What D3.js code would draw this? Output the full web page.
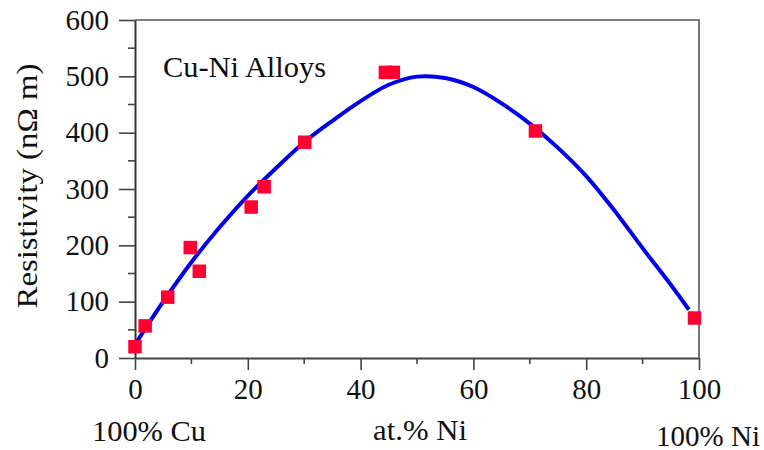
<!DOCTYPE html>
<html>
<head>
<meta charset="utf-8">
<script src="https://cdn.jsdelivr.net/npm/d3@7"></script>
</head>
<body style="margin:0;background:#fff">
<svg id="chart" width="764" height="450" font-family="Liberation Serif"></svg>
<script>
// ---- data ----
const niPercent   = [0, 1.8, 5.8, 9.8, 11.4, 20.6, 22.9, 30.1, 44.4, 45.8, 71.0, 99.2];
const resistivity = [20, 57, 108, 196, 154, 268, 304, 383, 507, 507, 403, 71];

const fitNi  = [0.4, 5, 10, 15, 20, 25, 30, 35, 40, 45, 50, 55, 60, 65, 70, 75, 80, 85, 90, 95, 98.2];
const fitRho = [30, 100, 170, 232, 288, 337, 383, 421, 456, 485, 499.5, 497, 481, 452, 416, 373, 323, 262, 195, 130, 86];

const xTicks = [0, 20, 40, 60, 80, 100];
const yTicks = [0, 100, 200, 300, 400, 500, 600];
const xMinor = [10, 30, 50, 70, 90];
const yMinor = [50, 150, 250, 350, 450, 550];

const chartTitle = "Cu-Ni Alloys";
const yTitle = "Resistivity (nΩ m)";
const xTitle = "at.% Ni";
const leftNote = "100% Cu";
const rightNote = "100% Ni";

// ---- layout ----
const FONT = '"Liberation Serif"';
const svg = d3.select("#chart");
const x = d3.scaleLinear().domain([0, 100]).range([135, 699]);
const y = d3.scaleLinear().domain([0, 600]).range([358, 20]);

const fontSize = 29;

// frame (top & right)
svg.append("path")
  .attr("d", `M${x(0)},${y(600)}H${x(100)}V${y(0)}`)
  .attr("fill", "none").attr("stroke", "#555").attr("stroke-width", 1.6);

// x axis
const gx = svg.append("g").attr("transform", `translate(0,${y(0)})`)
  .call(d3.axisBottom(x).tickValues(xTicks).tickSize(12).tickSizeOuter(0).tickPadding(8).tickFormat(d3.format("d")));
gx.attr("font-family", "Liberation Serif").attr("font-size", fontSize);
gx.selectAll(".tick text").attr("font-family", "Liberation Serif").style("font-family", FONT).style("font-size", fontSize + "px").attr("fill", "#111");
gx.select(".domain").attr("stroke", "#444").attr("stroke-width", 2);
gx.selectAll(".tick line").attr("stroke", "#444").attr("stroke-width", 1.6);
gx.selectAll(".minor").data(xMinor).enter().append("line")
  .attr("class", "minor")
  .attr("x1", d => x(d)).attr("x2", d => x(d)).attr("y1", 0).attr("y2", 6)
  .attr("stroke", "#444").attr("stroke-width", 1.6);

// y axis
const gy = svg.append("g").attr("transform", `translate(${x(0)},0)`)
  .call(d3.axisLeft(y).tickValues(yTicks).tickSize(16).tickSizeOuter(0).tickPadding(10).tickFormat(d3.format("d")));
gy.attr("font-family", "Liberation Serif").attr("font-size", fontSize);
gy.selectAll(".tick text").attr("font-family", "Liberation Serif").style("font-family", FONT).style("font-size", fontSize + "px").attr("fill", "#111");
gy.select(".domain").attr("stroke", "#333").attr("stroke-width", 2);
gy.selectAll(".tick line").attr("stroke", "#444").attr("stroke-width", 1.6);
gy.selectAll(".minor").data(yMinor).enter().append("line")
  .attr("class", "minor")
  .attr("x1", -7).attr("x2", 0).attr("y1", d => y(d)).attr("y2", d => y(d))
  .attr("stroke", "#444").attr("stroke-width", 1.6);

// fit curve
const fit = fitNi.map((d, i) => [d, fitRho[i]]);
svg.append("path")
  .datum(fit)
  .attr("d", d3.line().x(d => x(d[0])).y(d => y(d[1])).curve(d3.curveCatmullRom.alpha(0.5)))
  .attr("fill", "none").attr("stroke", "#0000ee").attr("stroke-width", 4);

// data squares
const sq = 13.5;
svg.selectAll(".pt").data(niPercent.map((d, i) => [d, resistivity[i]])).enter()
  .append("rect").attr("class", "pt")
  .attr("x", d => x(d[0]) - sq / 2).attr("y", d => y(d[1]) - sq / 2)
  .attr("width", sq).attr("height", sq)
  .attr("fill", "#ff0033");

// texts
function label(sel, len) {
  return sel.attr("font-family", "Liberation Serif").attr("font-size", 30)
    .style("font-family", FONT).style("font-size", "30px").attr("fill", "#111")
    .attr("textLength", len).attr("lengthAdjust", "spacingAndGlyphs");
}
label(svg.append("text").attr("x", 163).attr("y", 77), 163).text(chartTitle);
label(svg.append("text").attr("transform", "translate(37,186) rotate(-90)")
  .attr("text-anchor", "middle"), 245).text(yTitle);
label(svg.append("text").attr("x", 373).attr("y", 440), 94).text(xTitle);
label(svg.append("text").attr("x", 92).attr("y", 441), 114).text(leftNote);
label(svg.append("text").attr("x", 656).attr("y", 446), 104).text(rightNote);
</script>
</body>
</html>
